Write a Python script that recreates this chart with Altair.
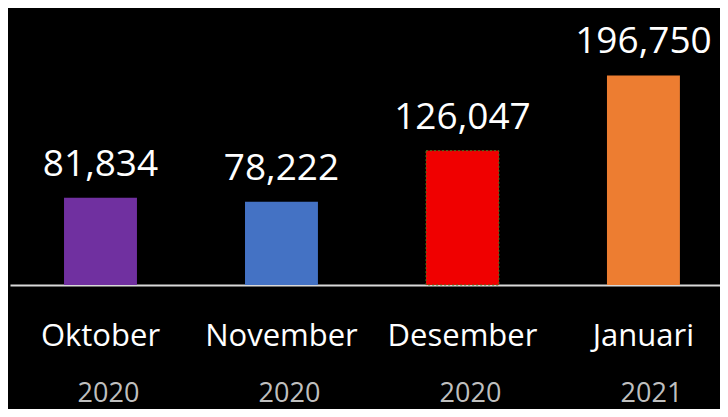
import altair as alt
import pandas as pd

months = ["Oktober", "November", "Desember", "Januari"]
years = ["2020", "2020", "2020", "2021"]
values = [81834, 78222, 126047, 196750]
colors = ["#7030a0", "#4472c4", "#f00000", "#ed7d31"]

df = pd.DataFrame({
    "month": months,
    "year": years,
    "value": values,
    "label": [f"{v:,}" for v in values],
})

FONT = "Open Sans"

x = alt.X(
    "month:N",
    sort=months,
    title=None,
    scale=alt.Scale(paddingInner=0.597, paddingOuter=0.26, align=0.574),
    axis=alt.Axis(
        labelAngle=0,
        labelFontSize=31,
        labelFont=FONT,
        labelColor="#ffffff",
        labelPadding=36,
        ticks=False,
        domainColor="#d9d9d9",
        domainWidth=2,
        grid=False,
    ),
)
y = alt.Y(
    "value:Q",
    scale=alt.Scale(domain=[0, 260000], nice=False),
    axis=None,
)

base = alt.Chart(df)

bars = base.mark_bar().encode(
    x=x,
    y=y,
    color=alt.Color("month:N", scale=alt.Scale(domain=months, range=colors), legend=None),
)

red_outline = base.transform_filter(alt.datum.month == "Desember").mark_bar(
    fill="#f00000", stroke="#3a7d22", strokeWidth=1, strokeDash=[2, 2]
).encode(x=x, y=y)

labels = base.mark_text(
    font=FONT, fontSize=37, color="#ffffff", baseline="alphabetic", dy=-22
).encode(x=x, y=y, text="label:N")

year_text = base.mark_text(
    font=FONT, fontSize=27, color="#bfbfbf", baseline="alphabetic", dx=8
).encode(x=x, y=alt.value(394), text="year:N")

chart = alt.layer(bars, red_outline, labels, year_text).properties(
    width=710,
    height=277,
    background="#000000",
    padding={"left": 2, "top": 0, "right": 0, "bottom": 124},
    autosize=alt.AutoSizeParams(type="none"),
).configure_view(stroke=None)

chart.save("out.html", embed_options={"renderer": "svg", "actions": False})
